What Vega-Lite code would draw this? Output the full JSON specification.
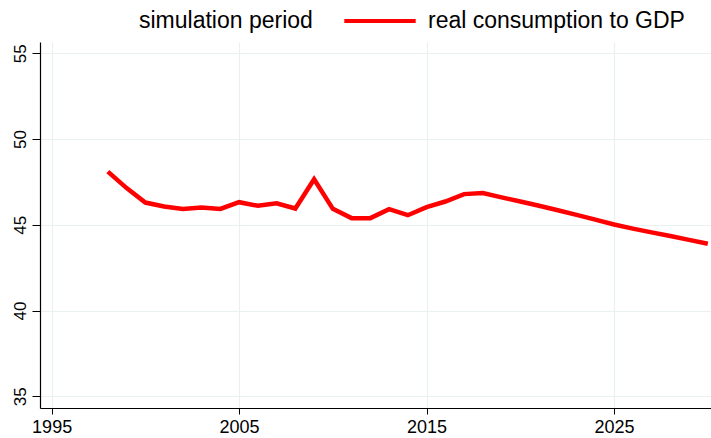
{
  "$schema": "https://vega.github.io/schema/vega-lite/v6.json",
  "width": 671,
  "height": 366,
  "autosize": {"type": "none"},
  "padding": {"left": 40, "top": 42, "right": 0, "bottom": 30},
  "background": "white",
  "data": {
    "values": [
      {"year": 1998, "value": 48.10, "series": "real consumption to GDP"},
      {"year": 1999, "value": 47.14, "series": "real consumption to GDP"},
      {"year": 2000, "value": 46.30, "series": "real consumption to GDP"},
      {"year": 2001, "value": 46.07, "series": "real consumption to GDP"},
      {"year": 2002, "value": 45.93, "series": "real consumption to GDP"},
      {"year": 2003, "value": 46.01, "series": "real consumption to GDP"},
      {"year": 2004, "value": 45.93, "series": "real consumption to GDP"},
      {"year": 2005, "value": 46.32, "series": "real consumption to GDP"},
      {"year": 2006, "value": 46.11, "series": "real consumption to GDP"},
      {"year": 2007, "value": 46.26, "series": "real consumption to GDP"},
      {"year": 2008, "value": 45.95, "series": "real consumption to GDP"},
      {"year": 2009, "value": 47.66, "series": "real consumption to GDP"},
      {"year": 2010, "value": 45.93, "series": "real consumption to GDP"},
      {"year": 2011, "value": 45.39, "series": "real consumption to GDP"},
      {"year": 2012, "value": 45.39, "series": "real consumption to GDP"},
      {"year": 2013, "value": 45.91, "series": "real consumption to GDP"},
      {"year": 2014, "value": 45.56, "series": "real consumption to GDP"},
      {"year": 2015, "value": 46.03, "series": "real consumption to GDP"},
      {"year": 2016, "value": 46.36, "series": "real consumption to GDP"},
      {"year": 2017, "value": 46.79, "series": "real consumption to GDP"},
      {"year": 2018, "value": 46.85, "series": "real consumption to GDP"},
      {"year": 2019, "value": 46.60, "series": "real consumption to GDP"},
      {"year": 2020, "value": 46.36, "series": "real consumption to GDP"},
      {"year": 2021, "value": 46.11, "series": "real consumption to GDP"},
      {"year": 2022, "value": 45.85, "series": "real consumption to GDP"},
      {"year": 2023, "value": 45.58, "series": "real consumption to GDP"},
      {"year": 2024, "value": 45.30, "series": "real consumption to GDP"},
      {"year": 2025, "value": 45.02, "series": "real consumption to GDP"},
      {"year": 2026, "value": 44.78, "series": "real consumption to GDP"},
      {"year": 2027, "value": 44.56, "series": "real consumption to GDP"},
      {"year": 2028, "value": 44.35, "series": "real consumption to GDP"},
      {"year": 2029, "value": 44.12, "series": "real consumption to GDP"},
      {"year": 2030, "value": 43.90, "series": "real consumption to GDP"}
    ]
  },
  "mark": {"type": "line", "strokeWidth": 4.5, "clip": true},
  "encoding": {
    "x": {
      "field": "year",
      "type": "quantitative",
      "scale": {"domain": [1994.38, 2030.17], "nice": false, "zero": false},
      "axis": {
        "title": null,
        "values": [1995, 2005, 2015, 2025],
        "format": "d",
        "grid": true,
        "gridColor": "#e8f0f2",
        "gridWidth": 1.2,
        "domainColor": "#000000",
        "domainWidth": 1.2,
        "tickColor": "#000000",
        "tickSize": 6,
        "labelFontSize": 18,
        "labelPadding": 4,
        "labelColor": "#000000",
        "labelFont": "Liberation Sans"
      }
    },
    "y": {
      "field": "value",
      "type": "quantitative",
      "scale": {"domain": [34.32, 55.66], "nice": false, "zero": false},
      "axis": {
        "title": null,
        "values": [35, 40, 45, 50, 55],
        "grid": true,
        "gridColor": "#e8f0f2",
        "gridWidth": 1.2,
        "domainColor": "#000000",
        "domainWidth": 1.2,
        "tickColor": "#000000",
        "tickSize": 8,
        "labelAngle": 270,
        "labelAlign": "center",
        "labelBaseline": "alphabetic",
        "labelPadding": 7,
        "labelFontSize": 17,
        "labelColor": "#000000",
        "labelFont": "Liberation Sans"
      }
    },
    "color": {
      "field": "series",
      "type": "nominal",
      "scale": {
        "domain": ["simulation period", "real consumption to GDP"],
        "range": ["transparent", "#ff0000"]
      },
      "legend": {
        "title": null,
        "orient": "none",
        "direction": "horizontal",
        "legendX": 13,
        "legendY": -59,
        "symbolType": "stroke",
        "symbolSize": 5100,
        "symbolStrokeWidth": 4,
        "labelFontSize": 23,
        "labelFont": "Liberation Sans",
        "labelColor": "#000000",
        "labelOffset": 10,
        "columnPadding": 23,
        "padding": 0,
        "labelLimit": 400
      }
    }
  },
  "config": {"view": {"stroke": null}}
}
